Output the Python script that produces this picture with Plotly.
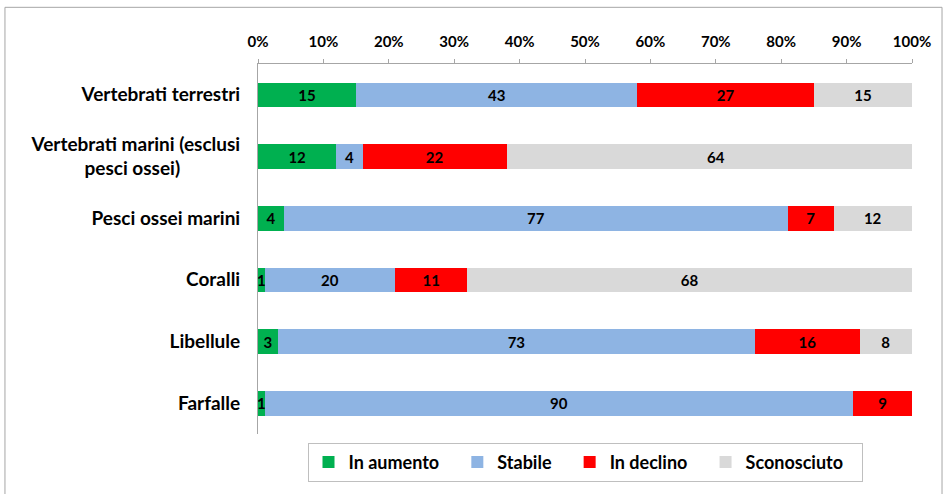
import plotly.graph_objects as go

categories = [
    "Vertebrati terrestri",
    "Vertebrati marini (esclusi<br>pesci ossei)" + "\u00a0" * 13,
    "Pesci ossei marini",
    "Coralli",
    "Libellule",
    "Farfalle",
]
series_names = ["In aumento", "Stabile", "In declino", "Sconosciuto"]
in_aumento = [15, 12, 4, 1, 3, 1]
stabile = [43, 4, 77, 20, 73, 90]
in_declino = [27, 22, 7, 11, 16, 9]
sconosciuto = [15, 64, 12, 68, 8, 0]
colors = ["#00B050", "#8EB4E3", "#FF0000", "#D9D9D9"]
tick_vals = list(range(0, 101, 10))
tick_text = [f"{v}%" for v in tick_vals]

FONT = "Lato"
PAD = "\u00a0" * 3
positions = list(range(len(categories)))
fig = go.Figure()
for name, vals, col in zip(series_names, [in_aumento, stabile, in_declino, sconosciuto], colors):
    fig.add_trace(go.Bar(
        y=positions, x=vals, name=name + PAD, orientation="h",
        marker=dict(color=col, line=dict(width=0)),
        text=[str(v) if v else "" for v in vals],
        textposition="inside", insidetextanchor="middle", textangle=0,
        textfont=dict(family=FONT, size=15, color="black", weight="bold"),
    ))

fig.update_layout(
    barmode="stack",
    width=946, height=494,
    margin=dict(l=258, r=34, t=64, b=58),
    paper_bgcolor="white", plot_bgcolor="white",
    bargap=0.6,
    uniformtext=dict(minsize=15, mode="show"),
    font=dict(family=FONT, color="black"),
    xaxis=dict(
        side="top", range=[0, 100], tickvals=tick_vals, ticktext=tick_text,
        showgrid=False, zeroline=False, showline=True, linecolor="#A6A6A6", linewidth=1,
        ticks="outside", ticklen=4, tickcolor="#A6A6A6", ticklabelstandoff=6,
        tickfont=dict(family=FONT, size=15, weight="bold"),
    ),
    yaxis=dict(
        autorange="reversed", showgrid=False, zeroline=False,
        tickvals=positions, ticktext=categories,
        showline=True, linecolor="#A6A6A6", linewidth=1, ticks="",
        ticklabelstandoff=13,
        tickfont=dict(family=FONT, size=19, weight="bold"),
    ),
    legend=dict(
        orientation="h", x=0.5, xanchor="center", y=-0.024, yanchor="top",
        bordercolor="#BFBFBF", borderwidth=1,
        font=dict(family=FONT, size=18, weight="bold"),
        traceorder="normal",
    ),
    shapes=[dict(
        type="rect", xref="paper", yref="paper",
        x0=-0.3869, x1=1.0459, y0=-0.172, y1=1.1532,
        line=dict(color="#A6A6A6", width=1), fillcolor="rgba(0,0,0,0)", layer="below",
    )],
)

fig.write_html("out.html", config={"displayModeBar": False},
               post_script="document.body.style.margin='0';")
